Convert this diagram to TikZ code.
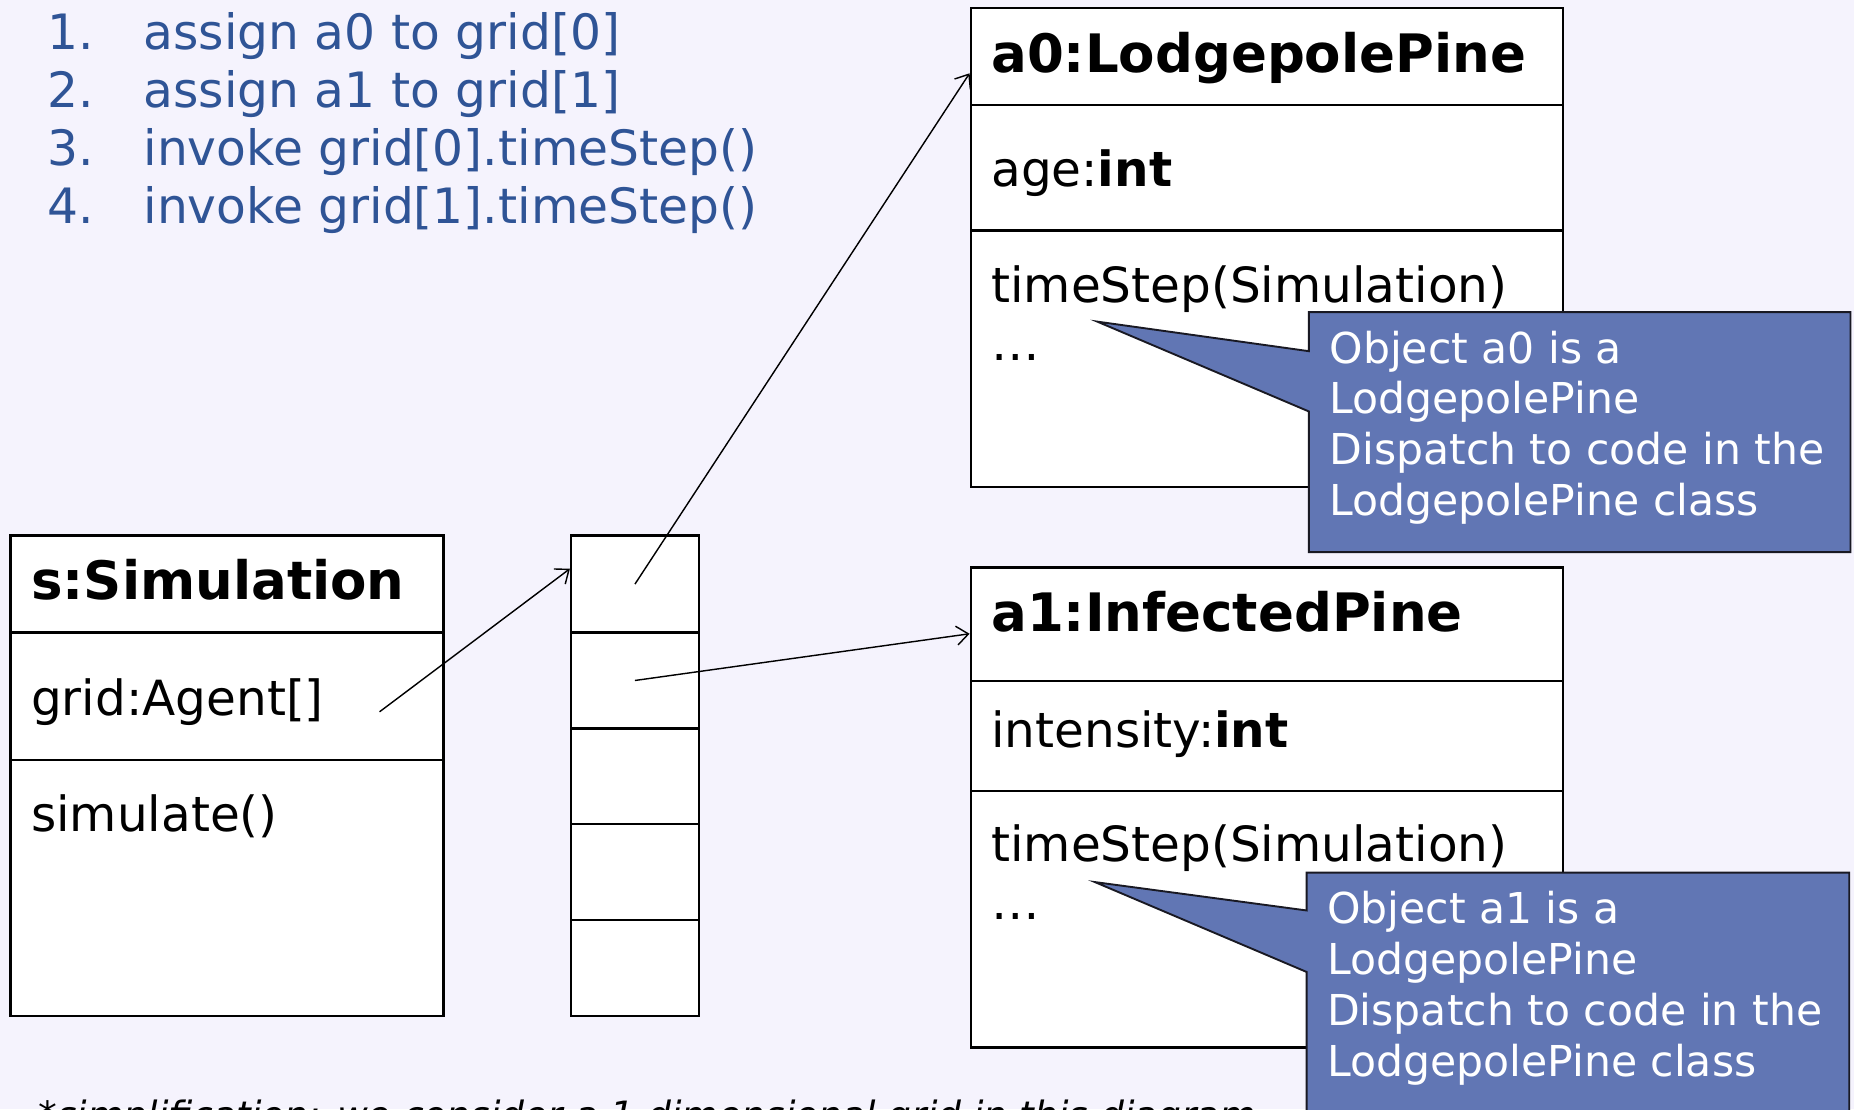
\documentclass[tikz,border=0pt]{standalone}
\usepackage{fontspec}
\setmainfont{DejaVu Sans}
\usetikzlibrary{arrows.meta}
\definecolor{bg}{RGB}{245,243,253}
\definecolor{listblue}{RGB}{47,84,150}
\definecolor{callfill}{RGB}{97,118,180}
\definecolor{callline}{RGB}{25,25,35}
\begin{document}
\begin{tikzpicture}[x=0.5pt,y=-0.5pt,
  sect/.style={draw=black, fill=white, line width=1pt, inner sep=0pt},
  body/.style={font=\fontsize{20.5}{24}\selectfont, anchor=base west, inner sep=0pt},
  ttl/.style={font=\fontsize{22.4}{26}\selectfont\bfseries, anchor=base west, inner sep=0pt},
  listtxt/.style={font=\fontsize{20.6}{24}\selectfont, text=listblue, anchor=base west, inner sep=0pt},
  calltxt/.style={font=\fontsize{18}{21.5}\selectfont, text=white, anchor=base west, inner sep=0pt},
  callout/.style={fill=callfill, draw=callline, line width=0.8pt, line join=miter},
  ptr/.style={line width=0.6pt, -{Straight Barb[length=5pt,width=8pt]}}
]
\useasboundingbox (0,0) rectangle (1568,938);
\fill[bg] (0,0) rectangle (1568,938);
\begin{scope}
\clip (0,0) rectangle (1568,938);

% numbered list
\node[listtxt] (n1) at (40,42) {1.};
\node[listtxt] (l1) at (121,42) {assign a0 to grid[0]};
\node[listtxt] (n2) at (40,91) {2.};
\node[listtxt] (l2) at (121,91) {assign a1 to grid[1]};
\node[listtxt] (n3) at (40,140) {3.};
\node[listtxt] (l3) at (121,140) {invoke grid[0].timeStep()};
\node[listtxt] (n4) at (40,189) {4.};
\node[listtxt] (l4) at (121,189) {invoke grid[1].timeStep()};

% s:Simulation
\node[sect, minimum width=183pt, minimum height=41pt] (simT) at (192,494) {};
\node[sect, minimum width=183pt, minimum height=54pt] (simA) at (192,589) {};
\node[sect, minimum width=183pt, minimum height=108pt] (simO) at (192,751) {};
\node[ttl] (simTt) at (26,507) {s:Simulation};
\node[body] (simAt) at (26,605) {grid:Agent[]};
\node[body] (simOt) at (26,703) {simulate()};

% grid array
\node[sect, minimum width=54pt, minimum height=41pt] (cell0) at (537,494) {};
\node[sect, minimum width=54pt, minimum height=40.5pt] (cell1) at (537,575.5) {};
\node[sect, minimum width=54pt, minimum height=40.5pt] (cell2) at (537,656.5) {};
\node[sect, minimum width=54pt, minimum height=40.5pt] (cell3) at (537,737.5) {};
\node[sect, minimum width=54pt, minimum height=40.5pt] (cell4) at (537,818.5) {};

% a0:LodgepolePine
\node[sect, minimum width=250.5pt, minimum height=41pt] (a0T) at (1071.5,48) {};
\node[sect, minimum width=250.5pt, minimum height=53pt] (a0A) at (1071.5,142) {};
\node[sect, minimum width=250.5pt, minimum height=108.5pt] (a0O) at (1071.5,303.5) {};
\node[ttl] (a0Tt) at (838,61) {a0:LodgepolePine};
\node[body] (a0At) at (838,158) {age:\textbf{int}};
\node[body] (a0Ot) at (838,256) {timeStep(Simulation)};
\node[body] (a0Od) at (838,305) {…};

% a1:InfectedPine
\node[sect, minimum width=250.5pt, minimum height=48pt] (a1T) at (1071.5,528) {};
\node[sect, minimum width=250.5pt, minimum height=46.5pt] (a1A) at (1071.5,622.5) {};
\node[sect, minimum width=250.5pt, minimum height=108.5pt] (a1O) at (1071.5,777.5) {};
\node[ttl] (a1Tt) at (838,534) {a1:InfectedPine};
\node[body] (a1At) at (838,632) {intensity:\textbf{int}};
\node[body] (a1Ot) at (838,729) {timeStep(Simulation)};
\node[body] (a1Od) at (838,778) {…};

% callouts
\draw[callout] (1107,264) -- (1565,264) -- (1565,467) -- (1107,467) -- (1107,348) -- (928,272) -- (1107,297) -- cycle;
\node[calltxt] (c1a) at (1124,307) {Object a0 is a};
\node[calltxt] (c1b) at (1124,350) {LodgepolePine};
\node[calltxt] (c1c) at (1124,393) {Dispatch to code in the};
\node[calltxt] (c1d) at (1124,436) {LodgepolePine class};

\draw[callout] (1105,738) -- (1564,738) -- (1564,960) -- (1105,960) -- (1105,822) -- (926,746) -- (1105,770) -- cycle;
\node[calltxt] (c2a) at (1122,781) {Object a1 is a};
\node[calltxt] (c2b) at (1122,824) {LodgepolePine};
\node[calltxt] (c2c) at (1122,867) {Dispatch to code in the};
\node[calltxt] (c2d) at (1122,910) {LodgepolePine class};

% connectors
\coordinate (gridsrc) at (321,602);
\draw[ptr] (gridsrc) -- ([yshift=6.5pt]cell0.west);
\draw[ptr] (cell0.center) -- ([yshift=-7pt]a0T.west);
\draw[ptr] (cell1.center) -- ([yshift=-4pt]a1T.west);

% footnote (cut off by the lower edge, as in the reference)
\node[font=\fontsize{15.9}{19}\selectfont\itshape, anchor=base west, inner sep=0pt] (note) at (32,954) {*simplification: we consider a 1-dimensional grid in this diagram};
\end{scope}
\end{tikzpicture}
\end{document}
